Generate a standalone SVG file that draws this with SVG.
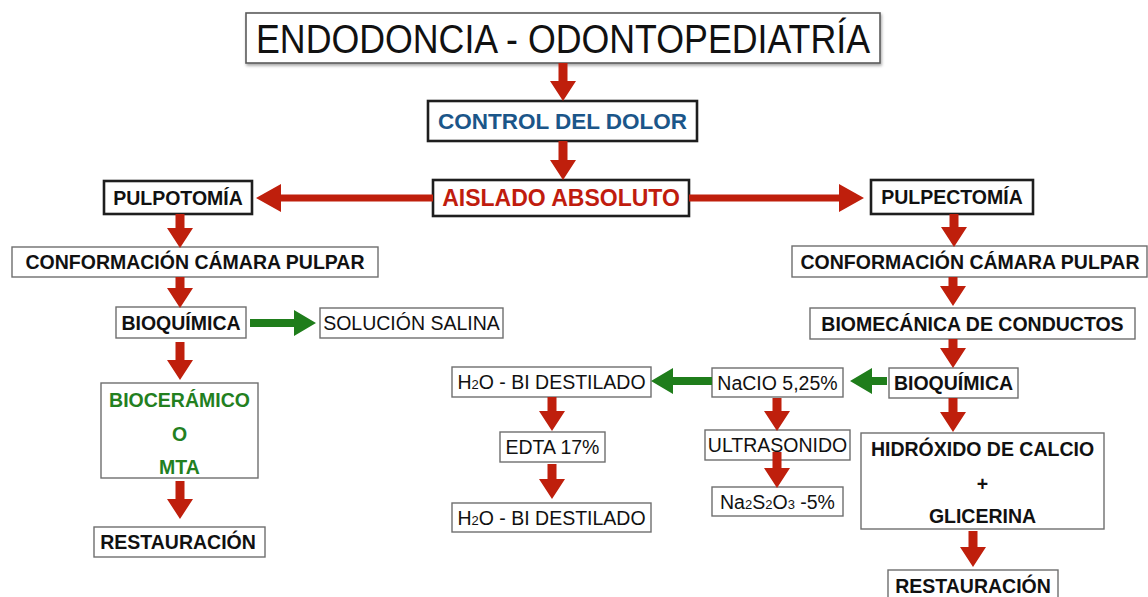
<svg xmlns="http://www.w3.org/2000/svg" width="1148" height="597" viewBox="0 0 1148 597">
<defs>
<style>
.box{fill:#fff;stroke:#6e6e6e;stroke-width:1.4}
.hbox{fill:#fff;stroke:#1e1e1e;stroke-width:2.6}
.tbox{fill:#fff;stroke:#5a5a5a;stroke-width:1.6}
text{font-family:"Liberation Sans",Arial,sans-serif;text-anchor:middle}
.b{font-weight:bold;font-size:19.5px;fill:#111}
.r{font-size:19.5px;fill:#111}
.title{font-size:40px;fill:#111}
.blue{font-weight:bold;font-size:22.5px;fill:#1b5689}
.redt{font-weight:bold;font-size:23px;fill:#c01c0e}
.gt{font-weight:bold;font-size:19.5px;fill:#23801f}
.ra{fill:#bf1f0c}
.ga{fill:#1f7d1b}
.sub{font-size:13px}
</style>
<filter id="sh" x="-5%" y="-20%" width="110%" height="150%">
<feDropShadow dx="1" dy="2" stdDeviation="1.5" flood-color="#000" flood-opacity="0.35"/>
</filter>
</defs>
<rect width="1148" height="597" fill="#fff"/>
<g id="title"><rect class="tbox" filter="url(#sh)" x="246" y="13" width="634" height="50"/><text class="title" x="563" y="52.5" textLength="614" lengthAdjust="spacingAndGlyphs">ENDODONCIA - ODONTOPEDIATRÍA</text></g>
<g id="control"><rect class="hbox" x="428" y="101" width="269" height="40"/><text class="blue" x="562.5" y="129">CONTROL DEL DOLOR</text></g>
<g id="aislado"><rect class="hbox" x="433" y="180" width="256" height="36"/><text class="redt" x="561" y="206">AISLADO ABSOLUTO</text></g>
<g id="pulpotomia"><rect class="hbox" x="104" y="181" width="148" height="33"/><text class="b" x="178" y="204.5">PULPOTOMÍA</text></g>
<g id="conf-left"><rect class="box" x="12" y="247" width="366" height="30"/><text class="b" x="195" y="269">CONFORMACIÓN CÁMARA PULPAR</text></g>
<g id="bioq-left"><rect class="box" x="116" y="307" width="130" height="31"/><text class="b" x="181" y="330">BIOQUÍMICA</text></g>
<g id="solucion"><rect class="box" x="320" y="308" width="183" height="30"/><text class="r" x="411.5" y="330">SOLUCIÓN SALINA</text></g>
<g id="bioceramico"><rect class="box" x="101" y="383" width="157" height="95"/><text class="gt" x="179.5" y="407">BIOCERÁMICO</text><text class="gt" x="179.5" y="441">O</text><text class="gt" x="179.5" y="474">MTA</text></g>
<g id="restauracion-left"><rect class="box" x="94" y="527" width="171" height="30"/><text class="b" x="178" y="549">RESTAURACIÓN</text></g>
<g id="pulpectomia"><rect class="hbox" x="871" y="180" width="162" height="34"/><text class="b" x="952" y="204">PULPECTOMÍA</text></g>
<g id="conf-right"><rect class="box" x="792" y="246" width="355" height="31"/><text class="b" x="970" y="268.5">CONFORMACIÓN CÁMARA PULPAR</text></g>
<g id="biomecanica"><rect class="box" x="810" y="308" width="325" height="31"/><text class="b" x="972.5" y="330.5">BIOMECÁNICA DE CONDUCTOS</text></g>
<g id="bioq-right"><rect class="box" x="889" y="368" width="129" height="30"/><text class="b" x="953.5" y="390">BIOQUÍMICA</text></g>
<g id="naclo"><rect class="box" x="712" y="368" width="131" height="29"/><text class="r" x="777.5" y="389.5">NaCIO 5,25%</text></g>
<g id="h2o-top"><rect class="box" x="452" y="367" width="199" height="30"/><text class="r" x="551.5" y="389">H<tspan class="sub">2</tspan>O - BI DESTILADO</text></g>
<g id="edta"><rect class="box" x="500" y="432" width="105" height="30"/><text class="r" x="552.5" y="454">EDTA 17%</text></g>
<g id="h2o-bottom"><rect class="box" x="452" y="503" width="199" height="29"/><text class="r" x="551.5" y="524.5">H<tspan class="sub">2</tspan>O - BI DESTILADO</text></g>
<g id="ultrasonido"><rect class="box" x="705" y="430" width="145" height="30"/><text class="r" x="777.5" y="452">ULTRASONIDO</text></g>
<g id="na2s2o3"><rect class="box" x="712" y="487" width="131" height="29"/><text class="r" x="777.5" y="508.5">Na<tspan class="sub">2</tspan>S<tspan class="sub">2</tspan>O<tspan class="sub">3</tspan> -5%</text></g>
<g id="hidroxido"><rect class="box" x="861" y="433" width="243" height="96"/><text class="b" x="982.5" y="456">HIDRÓXIDO DE CALCIO</text><text class="b" x="982.5" y="491">+</text><text class="b" x="982.5" y="523">GLICERINA</text></g>
<g id="restauracion-right"><rect class="box" x="888" y="570" width="170" height="32"/><text class="b" x="973" y="593">RESTAURACIÓN</text></g>
<g id="connectors">
<path class="ra" d="M558.5 63 H567.5 V81 H576 L563 101 L550 81 H558.5Z"/>
<path class="ra" d="M558.5 141 H567.5 V160 H576 L563 180 L550 160 H558.5Z"/>
<path class="ra" d="M433 194.5 V201.5 H281 V212 L256 198 L281 184 V194.5 Z"/>
<path class="ra" d="M689 194.5 V201.5 H839 V212 L864 198 L839 184 V194.5 Z"/>
<path class="ra" d="M175.5 214 H184.5 V228 H193 L180 248 L167 228 H175.5Z"/>
<path class="ra" d="M175.5 277 H184.5 V288 H193 L180 308 L167 288 H175.5Z"/>
<path class="ra" d="M175.5 342 H184.5 V360 H193 L180 380 L167 360 H175.5Z"/>
<path class="ra" d="M175.5 481 H184.5 V499 H193 L180 519 L167 499 H175.5Z"/>
<path class="ra" d="M949.5 214 H958.5 V227 H967 L954 247 L941 227 H949.5Z"/>
<path class="ra" d="M948.5 277 H957.5 V286 H966 L953 306 L940 286 H948.5Z"/>
<path class="ra" d="M948.5 339 H957.5 V348 H966 L953 368 L940 348 H948.5Z"/>
<path class="ra" d="M948.5 398 H957.5 V412 H966 L953 432 L940 412 H948.5Z"/>
<path class="ra" d="M968.5 531 H977.5 V547 H986 L973 567 L960 547 H968.5Z"/>
<path class="ra" d="M772.5 398 H781.5 V411 H790 L777 431 L764 411 H772.5Z"/>
<path class="ra" d="M772.5 452 H781.5 V468 H790 L777 488 L764 468 H772.5Z"/>
<path class="ra" d="M547.5 397 H556.5 V411 H565 L552 431 L539 411 H547.5Z"/>
<path class="ra" d="M547.5 464 H556.5 V479 H565 L552 499 L539 479 H547.5Z"/>
<path class="ga" d="M250 319 V327 H294 V336 L316 323 L294 310 V319 Z"/>
<path class="ga" d="M887 377 V385 H872 V394 L850 381 L872 368 V377 Z"/>
<path class="ga" d="M712 377 V385 H673 V394 L651 381 L673 368 V377 Z"/>
</g>
</svg>
